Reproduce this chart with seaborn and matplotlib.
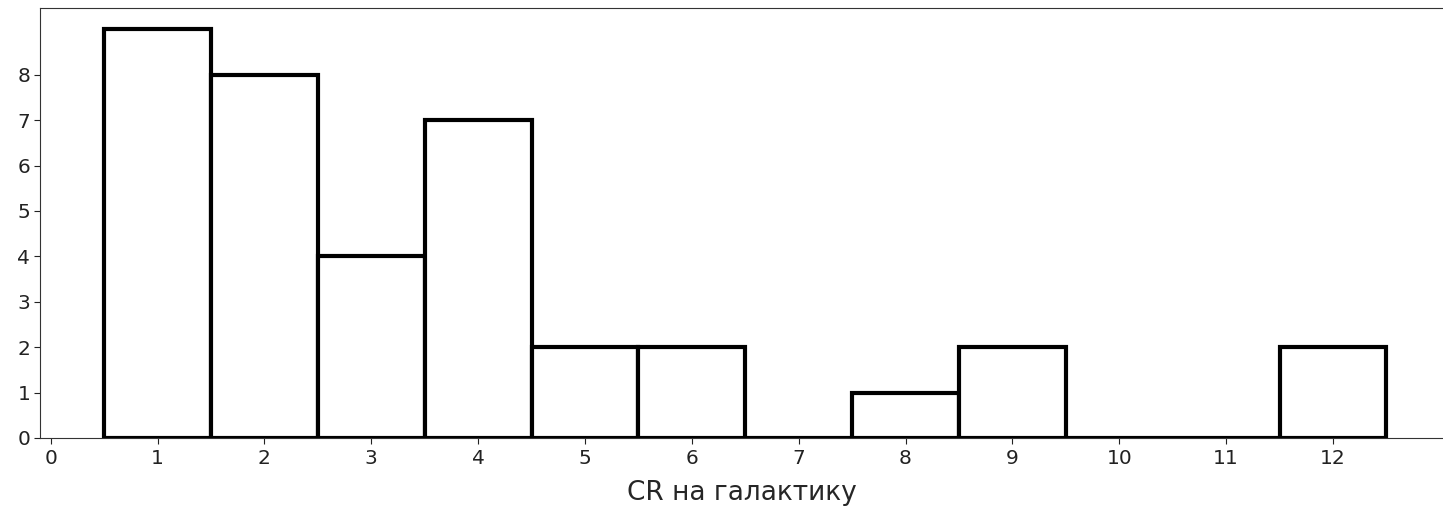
import matplotlib
matplotlib.use("Agg")
import matplotlib.pyplot as plt
import seaborn as sns

# CR values per galaxy and how many galaxies got each value
cr_values = [1, 2, 3, 4, 5, 6, 7, 8, 9, 10, 11, 12]
counts = [9, 8, 4, 7, 2, 2, 0, 1, 2, 0, 0, 2]
x_ticks = list(range(0, 13))
y_ticks = list(range(0, 9))

sns.set_style("ticks")
plt.rcParams['font.family'] = ['DejaVu Sans']

fig = plt.figure(figsize=(14.43, 5.08), dpi=100)
ax = fig.add_axes([0.0277, 0.138, 0.9723, 0.846])

sns.histplot(x=cr_values, weights=counts, discrete=True, ax=ax,
             color="white", edgecolor="black", linewidth=3, alpha=1)

ax.set_xlim(-0.1, 13.03)
ax.set_ylim(0, 9.47)
ax.set_xticks(x_ticks)
ax.set_yticks(y_ticks)
ax.tick_params(labelsize=14.5, length=4, width=0.8, colors="#222222")
ax.tick_params(axis="x", pad=4)
ax.tick_params(axis="y", pad=3)
ax.set_xlabel("CR на галактику", fontsize=19, labelpad=8.5)
ax.set_ylabel("")
for side in ["left", "bottom", "top"]:
    ax.spines[side].set_linewidth(0.8)
    ax.spines[side].set_color("#333333")
ax.spines["right"].set_visible(False)

fig.savefig("out.png", dpi=100)
